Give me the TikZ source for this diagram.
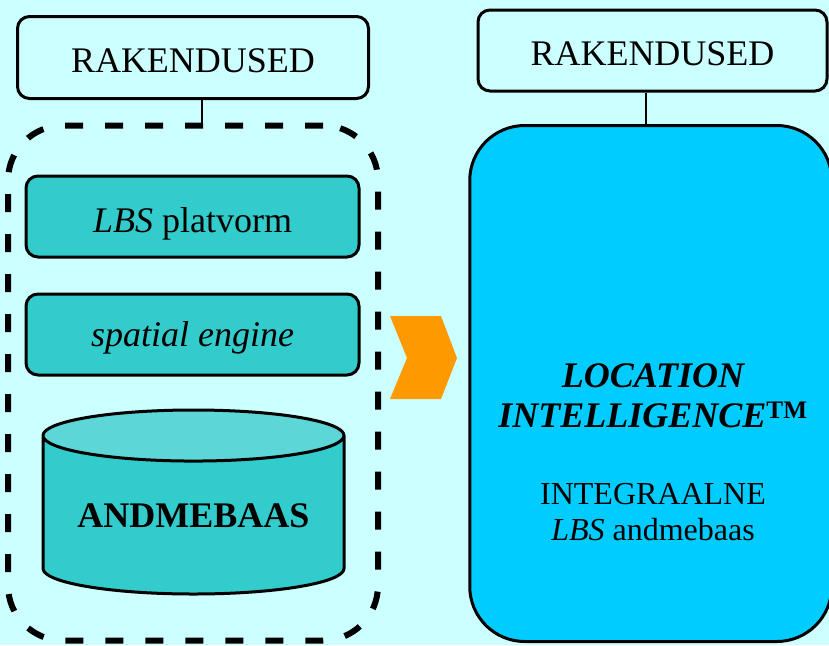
\documentclass[tikz,border=0pt]{standalone}
\usepackage{fontspec}
\setmainfont{Liberation Serif}
\usetikzlibrary{shapes.geometric}
\definecolor{bgcyan}{HTML}{CCFFFF}
\definecolor{layerteal}{HTML}{33CCCC}
\definecolor{lidteal}{HTML}{5CD6D6}
\definecolor{liblue}{HTML}{00CCFF}
\definecolor{chevorange}{HTML}{FF9900}
\begin{document}
\begin{tikzpicture} [x=1pt, y=-1pt, line width=3pt, font=\fontsize{36}{40}\selectfont, app/.style={draw, rounded corners=12pt, fill=bgcyan, minimum width=351pt, minimum height=82pt, inner sep=0pt, text height=30pt, text depth=0pt}, layer/.style={draw, rounded corners=12pt, fill=layerteal, minimum width=333pt, minimum height=81pt, inner sep=0pt, text height=32pt, text depth=8pt}, link/.style={line width=1.5pt}]

\fill[bgcyan] (0,0) rectangle (829,645);
\useasboundingbox (0,0) rectangle (829,645);

% left stack
\node at (193,57.5) [app] (lapp) {RAKENDUSED};
\node at (193,383) [draw, line width=6pt, dash pattern=on 18pt off 22pt, rounded corners=55pt, minimum width=370pt, minimum height=515pt] (store) {};
\node at (192.5,216.5) [layer, text depth=0pt] (lbs) {\textit{LBS} platvorm};
\node at (192.5,334.5) [layer] (engine) {\textit{spatial engine}};
\node at (193.5,502) [draw, cylinder, shape border rotate=90, aspect=0.22, anchor=shape center, minimum width=301pt, minimum height=184pt, inner sep=0pt, cylinder uses custom fill, cylinder body fill=layerteal, cylinder end fill=lidteal, font=\fontsize{36}{40}\selectfont\bfseries] (db) {ANDMEBAAS};

\coordinate (ltap) at ([xshift=9pt]lapp.south);
\draw[link] (ltap) -- (ltap |- store.north);

% arrow
\fill[chevorange] (390,316) -- (441,316) -- (457,358) -- (441,399) -- (390,399) -- (407,358) -- cycle;

% right stack
\node at (652.5,50.5) [app, minimum width=349pt, minimum height=81pt] (rapp) {RAKENDUSED};
\node at (650.75,383.5) [draw, fill=liblue, rounded corners=55pt, minimum width=362pt, minimum height=516pt] (li) {};
\node at (653,396) [align=center, font=\fontsize{36}{40}\selectfont\bfseries\itshape] (lititle) {LOCATION\\INTELLIGENCE\textsuperscript{\upshape TM}};
\node at (653,512) [align=center, font=\fontsize{32}{36}\selectfont] (lisub) {INTEGRAALNE\\\textit{LBS} andmebaas};

\coordinate (rtap) at ([xshift=-6.5pt]rapp.south);
\draw[link] (rtap) -- (rtap |- li.north);

\end{tikzpicture}
\end{document}
